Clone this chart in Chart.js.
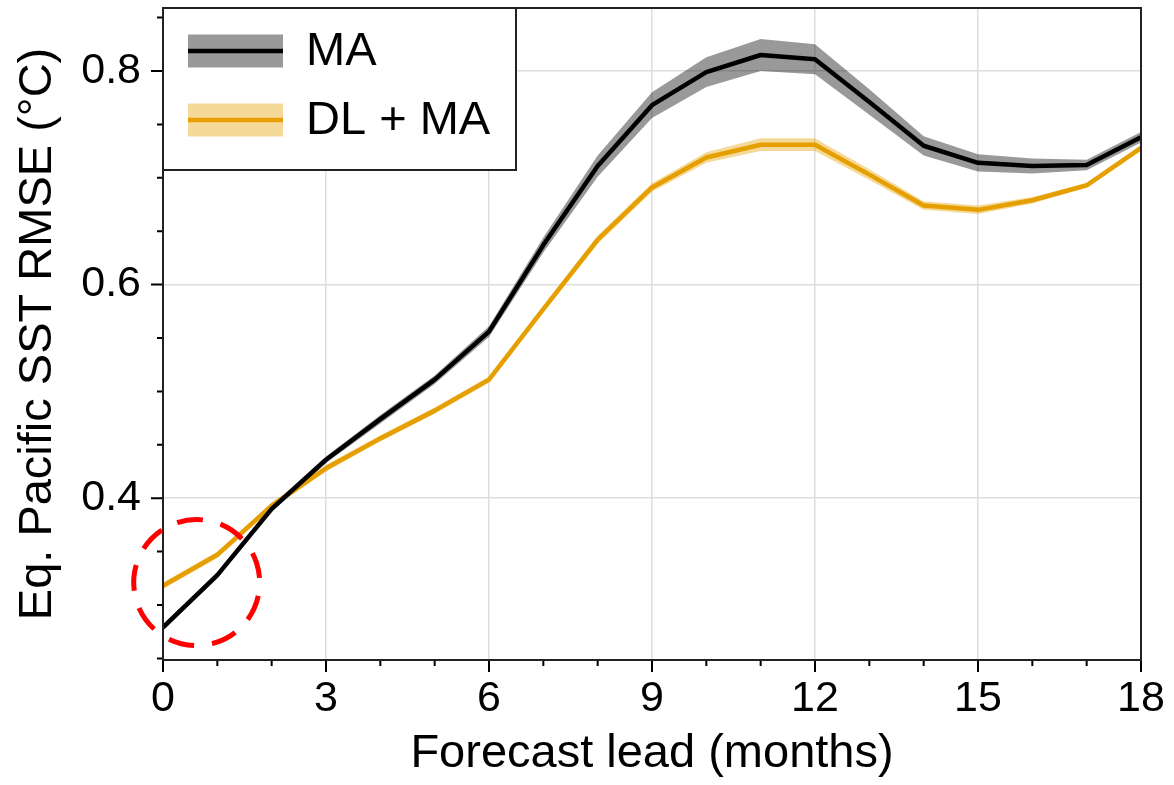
<!DOCTYPE html>
<html>
<head>
<meta charset="utf-8">
<title>Eq. Pacific SST RMSE</title>
<script src="https://cdn.jsdelivr.net/npm/chart.js@4.4.1/dist/chart.umd.min.js"></script>
<style>
  html, body { margin: 0; padding: 0; background: #fff; }
  #wrap { width: 1174px; height: 785px; }
</style>
</head>
<body>
<div id="wrap"><canvas id="chart" width="1174" height="785"></canvas></div>
<script>
// values
const leadMonths = [0, 1, 2, 3, 4, 5, 6, 7, 8, 9, 10, 11, 12, 13, 14, 15, 16, 17, 18];
const maMean   = [0.279, 0.328, 0.390, 0.436, 0.474, 0.511, 0.556, 0.637, 0.711, 0.768, 0.799, 0.815, 0.811, 0.771, 0.730, 0.714, 0.711, 0.712, 0.738];
const maSpread = [0.003, 0.003, 0.003, 0.003, 0.004, 0.004, 0.005, 0.007, 0.010, 0.012, 0.014, 0.015, 0.014, 0.012, 0.009, 0.008, 0.007, 0.005, 0.005];
const dlMean   = [0.318, 0.347, 0.393, 0.428, 0.456, 0.482, 0.511, 0.577, 0.642, 0.691, 0.719, 0.731, 0.731, 0.703, 0.674, 0.670, 0.679, 0.693, 0.728];
const dlSpread = [0.003, 0.003, 0.003, 0.003, 0.003, 0.003, 0.003, 0.003, 0.004, 0.004, 0.005, 0.006, 0.006, 0.005, 0.004, 0.004, 0.003, 0.002, 0.002];

const xTickValues  = [0, 1, 2, 3, 4, 5, 6, 7, 8, 9, 10, 11, 12, 13, 14, 15, 16, 17, 18];
const xLabelValues = [0, 3, 6, 9, 12, 15, 18];
const yTickValues  = [0.25, 0.3, 0.35, 0.4, 0.45, 0.5, 0.55, 0.6, 0.65, 0.7, 0.75, 0.8, 0.85];
const yLabelValues = [0.4, 0.6, 0.8];

const seriesNames = ['MA', 'DL + MA'];
const circleCenter = [0.62, 0.321]; // dashed red highlight, in data units

const FONT = '"Liberation Sans", Arial, Helvetica, sans-serif';
const BLACK = '#000000';
const GOLD = '#E69F00';
const GREY_BAND = 'rgba(0,0,0,0.40)';
const GOLD_BAND = 'rgba(230,159,0,0.40)';

const isIn = (list, v) => list.some(t => Math.abs(t - v) < 1e-6);
const pts = (ys) => leadMonths.map((m, i) => ({ x: m, y: ys[i] }));
const offsetBy = (ys, sd, sign) => ys.map((v, i) => v + sign * sd[i]);

// outward ticks (long on labelled values), full frame, dashed circle and legend
const decorPlugin = {
  id: 'decor',
  afterDraw(chart) {
    const { ctx, chartArea: a, scales: { x, y } } = chart;
    ctx.save();
    ctx.strokeStyle = BLACK;
    ctx.lineWidth = 2;
    ctx.beginPath();
    xTickValues.forEach(v => {
      const px = x.getPixelForValue(v);
      const len = isIn(xLabelValues, v) ? 12 : 6;
      ctx.moveTo(px, a.bottom);
      ctx.lineTo(px, a.bottom + len);
    });
    yTickValues.forEach(v => {
      const py = y.getPixelForValue(v);
      const len = isIn(yLabelValues, v) ? 12 : 6;
      ctx.moveTo(a.left - len, py);
      ctx.lineTo(a.left, py);
    });
    ctx.stroke();

    ctx.strokeStyle = '#222222';
    ctx.strokeRect(a.left, a.top, a.right - a.left, a.bottom - a.top);

    // red dashed circle
    ctx.beginPath();
    ctx.setLineDash([26, 18]);
    ctx.strokeStyle = '#ff0000';
    ctx.lineWidth = 5;
    ctx.arc(x.getPixelForValue(circleCenter[0]), y.getPixelForValue(circleCenter[1]), 63, -Math.PI * 0.6, Math.PI * 1.4);
    ctx.stroke();
    ctx.setLineDash([]);

    // legend box
    const bx = a.left, by = a.top, bw = 353, bh = 162;
    ctx.fillStyle = '#ffffff';
    ctx.fillRect(bx, by, bw, bh);
    ctx.strokeStyle = '#222222';
    ctx.lineWidth = 2;
    ctx.strokeRect(bx, by, bw, bh);
    const rows = [
      { name: seriesNames[0], band: GREY_BAND, line: BLACK, cy: by + 43 },
      { name: seriesNames[1], band: GOLD_BAND, line: GOLD, cy: by + 112 }
    ];
    rows.forEach(r => {
      ctx.fillStyle = r.band;
      ctx.fillRect(bx + 25, r.cy - 16.5, 95, 33);
      ctx.fillStyle = r.line;
      ctx.fillRect(bx + 25, r.cy - 2.25, 95, 4.5);
      ctx.fillStyle = BLACK;
      ctx.font = '47px ' + FONT;
      ctx.textBaseline = 'middle';
      ctx.textAlign = 'left';
      ctx.fillText(r.name, bx + 143, r.cy + 1);
    });
    ctx.restore();
  }
};

new Chart(document.getElementById('chart'), {
  type: 'line',
  data: {
    datasets: [
      { label: seriesNames[0], data: pts(maMean), borderColor: BLACK, borderWidth: 4.5, order: 0 },
      { label: seriesNames[1], data: pts(dlMean), borderColor: GOLD, borderWidth: 4.5, order: 1 },
      { label: 'ma-low', data: pts(offsetBy(maMean, maSpread, -1)), borderColor: 'transparent', borderWidth: 1, order: 6, fill: false },
      { label: 'ma-high', data: pts(offsetBy(maMean, maSpread, 1)), borderColor: 'transparent', borderWidth: 1, order: 5, fill: 2, backgroundColor: GREY_BAND },
      { label: 'dl-low', data: pts(offsetBy(dlMean, dlSpread, -1)), borderColor: 'transparent', borderWidth: 1, order: 4, fill: false },
      { label: 'dl-high', data: pts(offsetBy(dlMean, dlSpread, 1)), borderColor: 'transparent', borderWidth: 1, order: 3, fill: 4, backgroundColor: GOLD_BAND }
    ]
  },
  options: {
    responsive: false,
    animation: false,
    layout: { padding: { top: 8, right: 33, left: 0, bottom: 0 } },
    elements: {
      point: { radius: 0, hoverRadius: 0 },
      line: { tension: 0, borderJoinStyle: 'round', borderCapStyle: 'butt' }
    },
    plugins: {
      legend: { display: false },
      tooltip: { enabled: false }
    },
    scales: {
      x: {
        type: 'linear',
        min: 0,
        max: 18,
        afterBuildTicks: s => { s.ticks = xTickValues.map(v => ({ value: v })); },
        afterFit: s => { s.height = 125; s.paddingLeft = 0; s.paddingRight = 0; },
        ticks: {
          autoSkip: false,
          maxRotation: 0,
          padding: 13,
          color: BLACK,
          font: { size: 43, family: FONT },
          callback: v => isIn(xLabelValues, v) ? String(v) : ''
        },
        grid: {
          drawTicks: false,
          lineWidth: 1.5,
          color: c => (c.tick && isIn(xLabelValues, c.tick.value) && c.tick.value > 0 && c.tick.value < 18) ? '#dedede' : 'transparent'
        },
        border: { display: true, color: BLACK, width: 2 },
        title: {
          display: true,
          text: 'Forecast lead (months)',
          color: BLACK,
          font: { size: 47, family: FONT },
          padding: { top: 0, bottom: 3 }
        }
      },
      y: {
        type: 'linear',
        min: 0.2485,
        max: 0.859,
        afterBuildTicks: s => { s.ticks = yTickValues.map(v => ({ value: v })); },
        afterFit: s => { s.width = 163; s.paddingTop = 0; s.paddingBottom = 0; },
        ticks: {
          autoSkip: false,
          padding: 22,
          color: BLACK,
          font: { size: 43, family: FONT },
          callback: v => isIn(yLabelValues, v) ? v.toFixed(1) : ''
        },
        grid: {
          drawTicks: false,
          lineWidth: 1.5,
          color: c => (c.tick && isIn(yLabelValues, c.tick.value)) ? '#dedede' : 'transparent'
        },
        border: { display: true, color: BLACK, width: 2 },
        title: {
          display: true,
          text: 'Eq. Pacific SST RMSE (°C)',
          color: BLACK,
          font: { size: 47, family: FONT },
          padding: { top: 10, bottom: 0 }
        }
      }
    }
  },
  plugins: [decorPlugin]
});
</script>
</body>
</html>
